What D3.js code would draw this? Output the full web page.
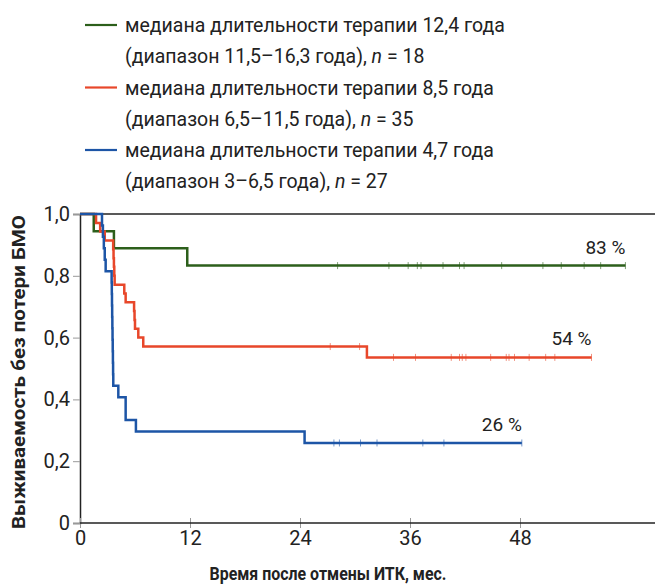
<!DOCTYPE html>
<html>
<head>
<meta charset="utf-8">
<script src="https://cdn.jsdelivr.net/npm/d3@7"></script>
<style>
  body { margin: 0; background: #fff; }
  svg { display: block; font-family: Roboto, 'Open Sans', sans-serif; }
</style>
</head>
<body>
<div id="chart"></div>
<script>
// step points [month, survival] for each group
const greenSteps = [[0, 1], [1.5, 0.944], [3.7, 0.889], [11.7, 0.833]]
const greenEnd = 59.5
const greenCensor = [28.1, 33.7, 35.8, 36.8, 37.2, 39.6, 41.4, 41.9, 46.0, 50.5, 52.5, 55.0, 56.8, 59.5]

const redSteps = [[0, 1], [1.75, 0.971], [2.2, 0.943], [2.7, 0.914], [3.62, 0.886], [3.66, 0.857],
  [3.7, 0.829], [3.74, 0.8], [3.78, 0.771], [4.83, 0.743], [4.98, 0.714], [5.9, 0.686],
  [5.95, 0.657], [6.0, 0.629], [6.36, 0.6], [6.9, 0.571], [31.3, 0.536]]
const redEnd = 55.8
const redCensor = [27.3, 30.5, 34.2, 36.6, 40.5, 41.4, 41.7, 42.1, 44.8, 46.5, 46.8, 47.4, 49.0, 50.8, 51.8, 55.8]

const blueSteps = [[0, 1], [2.4, 0.963], [2.5, 0.926], [2.6, 0.889], [2.7, 0.852], [2.8, 0.815],
  [3.45, 0.778], [3.47, 0.741], [3.49, 0.704], [3.51, 0.667], [3.53, 0.63], [3.55, 0.593],
  [3.57, 0.556], [3.59, 0.519], [3.61, 0.481], [3.63, 0.444], [4.18, 0.407], [4.98, 0.333],
  [6.1, 0.296], [24.5, 0.259]]
const blueEnd = 48.2
const blueCensor = [27.7, 28.3, 30.6, 32.4, 37.4, 39.7, 48.2]

const endLabels = ['83 %', '54 %', '26 %']
const legendLines = [
  ['медиана длительности терапии 12,4 года', '(диапазон 11,5–16,3 года), ', '= 18'],
  ['медиана длительности терапии 8,5 года', '(диапазон 6,5–11,5 года), ', '= 35'],
  ['медиана длительности терапии 4,7 года', '(диапазон 3–6,5 года), ', '= 27']
]
const xTicks = [0, 12, 24, 36, 48]
const yTicks = [0, 0.2, 0.4, 0.6, 0.8, 1]

const colors = ['#2c5f1b', '#e8472a', '#1d55a6']

const width = 655, height = 584
const plotLeft = 80, plotTop = 214, plotBottom = 523

const series = [
  { steps: greenSteps, end: greenEnd, censor: greenCensor, label: endLabels[0] },
  { steps: redSteps, end: redEnd, censor: redCensor, label: endLabels[1] },
  { steps: blueSteps, end: blueEnd, censor: blueCensor, label: endLabels[2] }
]

const x = d3.scaleLinear().domain([0, 48]).range([plotLeft, 520])
const y = d3.scaleLinear().domain([0, 1]).range([plotBottom, plotTop])

const svg = d3.select('#chart').append('svg')
  .attr('width', width)
  .attr('height', height)

// legend
const legend = svg.append('g').attr('class', 'legend')
legendLines.forEach((l, i) => {
  let cy = 25 + i * 62.5
  legend.append('line')
    .attr('x1', 85).attr('x2', 117)
    .attr('y1', cy).attr('y2', cy)
    .style('stroke', colors[i])
    .style('stroke-width', 2.2)
  legend.append('text')
    .attr('x', 125).attr('y', cy + 7)
    .style('font-size', '19.5px')
    .attr('fill', '#222')
    .text(l[0])
  let t2 = legend.append('text')
    .attr('x', 125).attr('y', cy + 38)
    .style('font-size', '19.5px')
    .attr('fill', '#222')
  t2.append('tspan').text(l[1])
  t2.append('tspan').style('font-style', 'italic').text('n')
  t2.append('tspan').text(' ' + l[2])
})

// frame
svg.append('line')
  .attr('x1', plotLeft).attr('x2', width)
  .attr('y1', plotTop).attr('y2', plotTop)
  .style('stroke', '#222').style('stroke-width', 1.5)

// y axis
let yAxis = svg.append('g')
  .attr('transform', 'translate(' + plotLeft + ',0)')
  .call(d3.axisLeft(y).tickValues(yTicks).tickSize(7).tickPadding(3)
    .tickFormat(d => d === 0 ? '0' : d3.format('.1f')(d).replace('.', ',')))
yAxis.select('.domain').style('stroke', '#222').style('stroke-width', 1.5)
yAxis.selectAll('.tick line').style('stroke', '#999')
yAxis.selectAll('.tick text')
  .style('font-size', '20px')
  .style('font-family', 'Roboto, sans-serif')
  .attr('fill', '#222')

// x axis
let xAxis = svg.append('g')
  .attr('transform', 'translate(0,' + plotBottom + ')')
  .call(d3.axisBottom(x).tickValues(xTicks).tickSize(5).tickPadding(3))
xAxis.select('.domain').remove()
xAxis.append('line')
  .attr('x1', plotLeft).attr('x2', width)
  .style('stroke', '#222').style('stroke-width', 1.5)
xAxis.selectAll('.tick line').attr('y1', -5).style('stroke', '#999')
xAxis.selectAll('.tick text')
  .style('font-size', '20px')
  .style('font-family', 'Roboto, sans-serif')
  .attr('fill', '#222')

// axis titles
svg.append('text')
  .attr('transform', 'translate(25,' + 372 + ') rotate(-90)')
  .style('text-anchor', 'middle')
  .style('font-size', '19px')
  .style('font-weight', 'bold')
  .attr('fill', '#222')
  .attr('textLength', 314)
  .attr('lengthAdjust', 'spacingAndGlyphs')
  .text('Выживаемость без потери БМО')

svg.append('text')
  .attr('x', 328).attr('y', 580)
  .style('text-anchor', 'middle')
  .style('font-size', '18px')
  .style('font-weight', 'bold')
  .attr('fill', '#222')
  .attr('textLength', 237)
  .attr('lengthAdjust', 'spacingAndGlyphs')
  .text('Время после отмены ИТК, мес.')

// curves
let stepLine = d3.line()
  .x(d => x(d[0]))
  .y(d => y(d[1]))
  .curve(d3.curveStepAfter)

series.forEach((s, i) => {
  let last = s.steps[s.steps.length - 1][1]
  let pts = s.steps.concat([[s.end, last]])
  let g = svg.append('g').attr('class', 'series')

  g.append('path')
    .datum(pts)
    .attr('d', stepLine)
    .style('fill', 'none')
    .style('stroke', colors[i])
    .style('stroke-width', 2.5)

  // censor marks
  g.selectAll('.censor')
    .data(s.censor)
    .enter().append('line')
    .attr('class', 'censor')
    .attr('x1', d => x(d)).attr('x2', d => x(d))
    .attr('y1', d => {
      let v = s.steps.filter(p => p[0] <= d)
      return y(v[v.length - 1][1]) - 3.5
    })
    .attr('y2', d => {
      let v = s.steps.filter(p => p[0] <= d)
      return y(v[v.length - 1][1]) + 3.5
    })
    .style('stroke', colors[i])
    .style('stroke-opacity', 0.6)
    .style('stroke-width', 1)

  g.append('text')
    .attr('x', x(s.end))
    .attr('y', y(last) - 12)
    .style('text-anchor', 'end')
    .style('font-size', '19px')
    .attr('fill', '#222')
    .text(s.label)
})
</script>
</body>
</html>
